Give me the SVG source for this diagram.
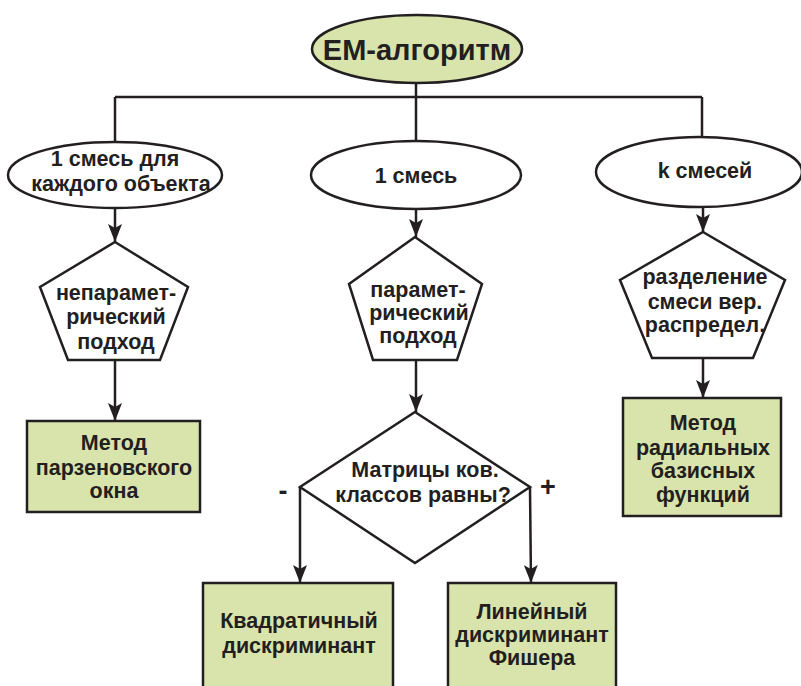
<svg xmlns="http://www.w3.org/2000/svg" width="801" height="686" viewBox="0 0 801 686">
<defs>
<marker id="ah" markerWidth="18" markerHeight="14" refX="18" refY="7" orient="auto" markerUnits="userSpaceOnUse" viewBox="0 0 18 14">
<path d="M0,0 L18,7 L0,14 L4,7 Z" fill="#231f20"/>
</marker>
</defs>
<style>
.ln{stroke:#231f20;stroke-width:2.5;fill:none}
.arr{stroke:#231f20;stroke-width:2.5;fill:none;marker-end:url(#ah)}
.sh{stroke:#231f20;stroke-width:2.5;fill:#ffffff}
.gr{stroke:#231f20;stroke-width:2.5;fill:#d9e4ad}
text{font-family:"Liberation Sans",Arial,sans-serif;font-weight:bold;font-size:21.5px;fill:#231f20;text-anchor:middle}
.big{font-size:29px}
.sign{font-size:27px}
</style>
<rect width="801" height="686" fill="#ffffff"/>
<g id="connectors">
<path class="ln" d="M416,83 V97 M115,97 H702 M115,97 V142 M416,97 V141 M702,97 V137"/>
<path class="arr" d="M115,208 V242"/>
<path class="arr" d="M416,209 V237"/>
<path class="arr" d="M703,208 V232"/>
<path class="arr" d="M115,360 V421"/>
<path class="arr" d="M416,360 V412"/>
<path class="arr" d="M703,358 V398"/>
<path class="arr" d="M300,487 V583"/>
<path class="arr" d="M530,487 L531,583"/>
</g>
<g id="root">
<ellipse class="gr" cx="417" cy="49" rx="105" ry="34"/>
<text class="big" x="417" y="60">ЕМ-алгоритм</text>
</g>
<g id="mix-each">
<ellipse class="sh" cx="115" cy="175" rx="107" ry="33"/>
<text x="115" y="166">1 смесь для</text>
<text x="121" y="191">каждого объекта</text>
</g>
<g id="mix-one">
<ellipse class="sh" cx="416" cy="175" rx="105" ry="34"/>
<text x="416" y="183">1 смесь</text>
</g>
<g id="mix-k">
<ellipse class="sh" cx="699" cy="172" rx="103" ry="35"/>
<text x="705" y="178">k смесей</text>
</g>
<g id="nonparam">
<polygon class="sh" points="115,242 188,287 160,360 68,360 40,287"/>
<text x="116" y="300">непарамет-</text>
<text x="116" y="324">рический</text>
<text x="116" y="349">подход</text>
</g>
<g id="param">
<polygon class="sh" points="415,237 482,284 457,360 373,360 349,284"/>
<text x="418" y="297">парамет-</text>
<text x="419" y="320">рический</text>
<text x="418" y="343">подход</text>
</g>
<g id="separation">
<polygon class="sh" points="703,232 785,280 753,358 652,358 620,280"/>
<text x="705" y="284">разделение</text>
<text x="705" y="309">смеси вер.</text>
<text x="705" y="332">распредел.</text>
</g>
<g id="parzen">
<rect class="gr" x="27" y="421" width="173" height="91"/>
<text x="114" y="450">Метод</text>
<text x="114" y="475">парзеновского</text>
<text x="114" y="498">окна</text>
</g>
<g id="decision">
<polygon class="sh" points="415,412 530,487 415,563 300,487"/>
<text x="425" y="477">Матрицы ков.</text>
<text x="423" y="502">классов равны?</text>
<text class="sign" x="283" y="500">-</text>
<text class="sign" x="548" y="496">+</text>
</g>
<g id="rbf">
<rect class="gr" x="623" y="398" width="158" height="118"/>
<text x="703" y="430">Метод</text>
<text x="703" y="455">радиальных</text>
<text x="703" y="478">базисных</text>
<text x="703" y="502">функций</text>
</g>
<g id="quadratic">
<rect class="gr" x="203" y="583" width="190" height="110"/>
<text x="299" y="628">Квадратичный</text>
<text x="299" y="653">дискриминант</text>
</g>
<g id="fisher">
<rect class="gr" x="448" y="583" width="168" height="110"/>
<text x="532" y="619">Линейный</text>
<text x="532" y="642">дискриминант</text>
<text x="532" y="665">Фишера</text>
</g>
</svg>
